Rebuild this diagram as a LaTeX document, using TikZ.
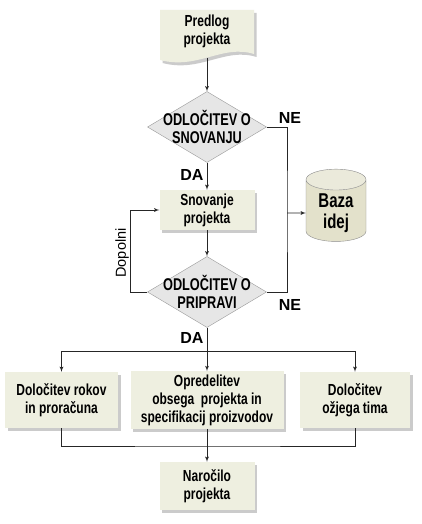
\documentclass[tikz,border=0pt]{standalone}
\usepackage{fontspec}
\setmainfont{Liberation Sans}[FakeStretch=0.75]
\newfontfamily\labelfont{Liberation Sans}
\usetikzlibrary{arrows,shapes,shapes.geometric,shadows,positioning,calc}
\definecolor{boxfill}{HTML}{EEEFE0}
\definecolor{decfill}{HTML}{E6E6E6}
\definecolor{dbfill}{HTML}{E3E1CB}
\tikzset{
    blocktext/.style = {align=center, font=\bfseries\fontsize{16}{18}\selectfont},
    block/.style = {rectangle, fill=boxfill, blocktext,
        drop shadow={shadow xshift=2.5pt, shadow yshift=-3pt, fill=black!40}},
    decision/.style = {diamond, draw=black!40, fill=decfill, inner sep=0pt,
        minimum width=119pt, minimum height=71pt},
    dectext/.style = {align=center, font=\bfseries\fontsize{17}{18.5}\selectfont},
    db/.style = {cylinder, shape border rotate=90, aspect=0.5, draw=black!45,
        cylinder uses custom fill, cylinder body fill=dbfill, cylinder end fill=dbfill!70!white,
        minimum width=60pt, minimum height=63pt, align=center,
        font=\bfseries\fontsize{20}{21}\selectfont},
    answer/.style = {font=\labelfont\bfseries\fontsize{16}{18}\selectfont},
    line/.style = {draw=black!85, line width=0.8pt}
}

\begin{document}
\begin{tikzpicture}[x=1pt, y=1pt, >=latex', node distance=2cm]
    \useasboundingbox[fill=white] (0,0) rectangle (422,-524);
    % predlog (document shape)
    \node [minimum width=95pt, minimum height=48pt] (pred) at (207,-34) {};
    \path [fill=boxfill, drop shadow={shadow xshift=2.5pt, shadow yshift=-3pt, fill=black!40}]
        (160,-10) -- (254,-10) -- (254,-54)
        .. controls (222,-44) and (198,-70) .. (160,-60) -- cycle;
    \node [blocktext] (predtxt) at (207,-31) {Predlog\\projekta};
    % decisions and blocks
    \node [decision, below of=pred, node distance=93pt,
        label={[dectext]center:ODLOČITEV O\\SNOVANJU}] (dsnov) {};
    \node [block, below of=dsnov, node distance=83pt, minimum width=95pt, minimum height=40pt] (snov) {Snovanje\\projekta};
    \node [decision, below of=snov, node distance=82pt,
        label={[dectext]center:ODLOČITEV O\\PRIPRAVI}] (dprip) {};
    \node [db] (baza) at (336,-213) {Baza\\idej};
    \node [block, below of=dprip, node distance=108pt, minimum width=153pt, minimum height=56pt] (opr)
        {Opredelitev\\obsega~ projekta in\\specifikacij proizvodov};
    \node [block, minimum width=113pt, minimum height=56pt] (rok) at (61.5,-400) {Določitev rokov\\in proračuna};
    \node [block, minimum width=110pt, minimum height=56pt] (tim) at (355,-400) {Določitev\\ožjega tima};
    \node [block, below of=opr, node distance=86pt, minimum width=95pt, minimum height=48pt] (nar) {Naročilo\\projekta};
    % connectors
    \draw [line,->] (predtxt.south |- pred.south) -- (dsnov.north);
    \draw [line,->] (dsnov.south) -- (snov.north);
    \draw [line,->] (snov.south) -- (dprip.north);
    \coordinate (nej) at (287,-213);
    \draw [line] (dsnov.east) -| (nej) |- (dprip.east);
    \draw [line,->] (nej) -- (baza.west);
    \draw [line,->] (dprip.west) -- ++(-17,0) |- (snov.west);
    \draw [line,->] (dprip.south) -- (opr.north);
    \coordinate (split) at ($(dprip.south)+(0,-24)$);
    \draw [line,->] (split) -| (rok.north);
    \draw [line,->] (split) -| (tim.north);
    \coordinate (join) at ($(opr.south)+(0,-17)$);
    \draw [line] (rok.south) |- (join) -| (tim.south);
    \draw [line,->] (opr.south) -- (nar.north);
    % labels
    \node [answer] (da1) at (192,-175) {DA};
    \node [answer] (ne1) at (290,-118) {NE};
    \node [answer] (da2) at (192,-338) {DA};
    \node [answer] (ne2) at (290,-305) {NE};
    \node [rotate=90, font=\labelfont\fontsize{14.5}{16}\selectfont] (dop) at (122,-253) {Dopolni};
\end{tikzpicture}
\end{document}
